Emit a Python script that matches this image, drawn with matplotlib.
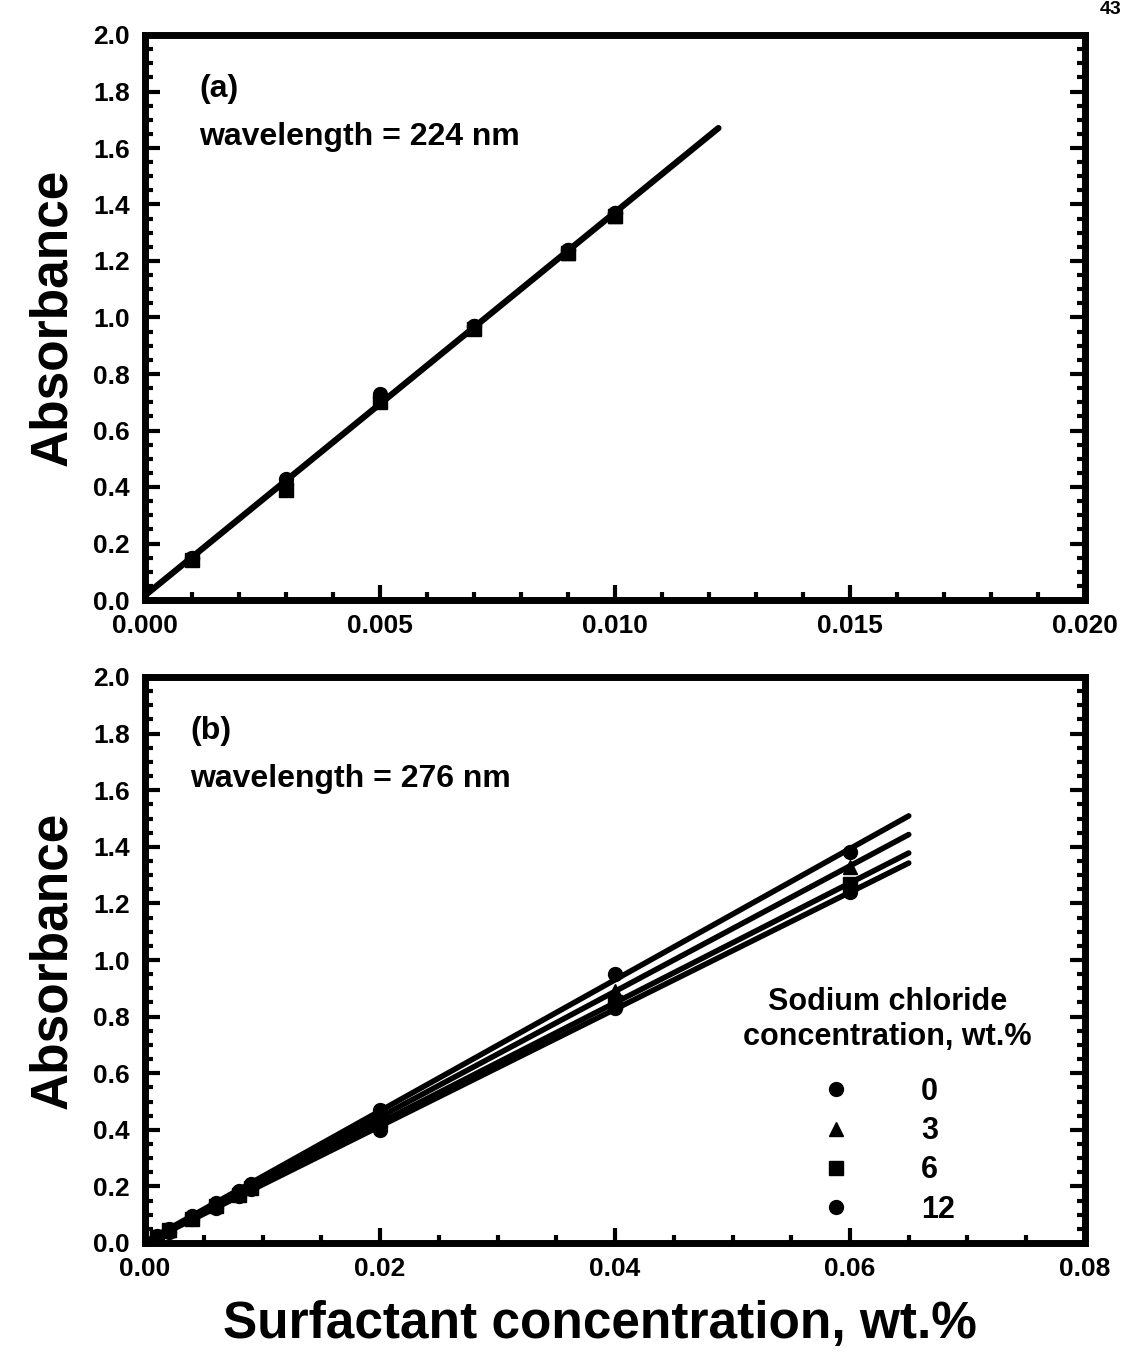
import matplotlib
matplotlib.use("Agg")
import matplotlib.pyplot as plt
from matplotlib.ticker import MultipleLocator, FormatStrFormatter
import numpy as np

plt.rcParams['font.family'] = ['Liberation Sans', 'DejaVu Sans']
plt.rcParams['font.weight'] = 'bold'

# salt levels (wt.% NaCl) and their markers
nacl_levels = ["0", "3", "6", "12"]
nacl_markers = ["o", "^", "s", "o"]

# panel (a): 224 nm
conc_a = [0.001, 0.003, 0.005, 0.007, 0.009, 0.010]
abs_a = [
    [0.15, 0.43, 0.72, 0.97, 1.24, 1.37],
    [0.15, 0.42, 0.71, 0.97, 1.23, 1.36],
    [0.14, 0.39, 0.70, 0.96, 1.23, 1.36],
    [0.15, 0.41, 0.73, 0.97, 1.24, 1.37],
]
fit_end_a = 0.0122

# panel (b): 276 nm
conc_b = [0.001, 0.002, 0.004, 0.006, 0.008, 0.009, 0.02, 0.04, 0.06]
abs_b = [
    [0.025, 0.05, 0.095, 0.14, 0.185, 0.21, 0.47, 0.95, 1.38],
    [0.02, 0.045, 0.09, 0.135, 0.18, 0.205, 0.45, 0.89, 1.33],
    [0.02, 0.045, 0.085, 0.13, 0.17, 0.195, 0.43, 0.85, 1.27],
    [0.02, 0.04, 0.085, 0.125, 0.165, 0.19, 0.40, 0.83, 1.24],
]
fit_end_b = 0.065

W, H = 1127, 1363
fig = plt.figure(figsize=(W / 100, H / 100), dpi=100)
ax1 = fig.add_axes([145 / W, 1 - 600 / H, 940 / W, 565 / H])
ax2 = fig.add_axes([145 / W, 1 - 1243 / H, 940 / W, 566 / H])


def style_axes(ax, xmax, xmajor, xminor, xfmt):
    ax.set_xlim(0, xmax)
    ax.set_ylim(0, 2.0)
    ax.xaxis.set_major_locator(MultipleLocator(xmajor))
    ax.xaxis.set_minor_locator(MultipleLocator(xminor))
    ax.yaxis.set_major_locator(MultipleLocator(0.2))
    ax.yaxis.set_minor_locator(MultipleLocator(0.05))
    ax.xaxis.set_major_formatter(FormatStrFormatter(xfmt))
    ax.yaxis.set_major_formatter(FormatStrFormatter('%.1f'))
    for s in ax.spines.values():
        s.set_linewidth(5)
    ax.tick_params(which='both', direction='in', width=3, top=False, right=True,
                   labelsize=19)
    ax.tick_params(which='major', length=11)
    ax.tick_params(which='minor', length=6)
    ax.tick_params(axis='y', pad=11)
    ax.tick_params(axis='x', pad=10)
    for lab in ax.get_xticklabels() + ax.get_yticklabels():
        lab.set_fontweight('bold')
    ax.set_ylabel('Absorbance', fontsize=37, fontweight='bold')
    ax.yaxis.set_label_coords(-0.072, 0.5)


# (a)
for vals, m in zip(abs_a, nacl_markers):
    ax1.plot(conc_a, vals, ls='none', marker=m, ms=10, color='black')
k, b = np.polyfit(np.tile(conc_a, len(abs_a)), np.ravel(abs_a), 1)
xf = np.array([0.0, fit_end_a])
ax1.plot(xf, k * xf + b, color='black', lw=4.5, solid_capstyle='round')
style_axes(ax1, 0.020, 0.005, 0.001, '%.3f')
ax1.text(0.058, 0.905, '(a)', transform=ax1.transAxes, fontsize=23,
         fontweight='bold', va='center')
ax1.text(0.058, 0.82, 'wavelength = 224 nm', transform=ax1.transAxes,
         fontsize=23, fontweight='bold', va='center')

# (b)
for vals, m, lab in zip(abs_b, nacl_markers, nacl_levels):
    ax2.plot(conc_b, vals, ls='none', marker=m, ms=10, color='black', label=lab)
    k, b = np.polyfit(conc_b, vals, 1)
    xf = np.array([0.0, fit_end_b])
    ax2.plot(xf, k * xf + b, color='black', lw=4, solid_capstyle='round')
style_axes(ax2, 0.080, 0.02, 0.005, '%.2f')
ax2.text(0.048, 0.905, '(b)', transform=ax2.transAxes, fontsize=23,
         fontweight='bold', va='center')
ax2.text(0.048, 0.82, 'wavelength = 276 nm', transform=ax2.transAxes,
         fontsize=23, fontweight='bold', va='center')

leg = ax2.legend(title='Sodium chloride\nconcentration, wt.%', frameon=False,
                 loc='upper center', bbox_to_anchor=(0.79, 0.5),
                 prop={'size': 22, 'weight': 'bold'},
                 title_fontproperties={'size': 22, 'weight': 'bold'},
                 handlelength=1, handletextpad=2.3, labelspacing=0.3,
                 alignment='center')
leg.get_title().set_multialignment('center')
leg._legend_box.sep = 18

fig.text(600 / W, 1 - 1325 / H, 'Surfactant concentration, wt.%', fontsize=37,
         fontweight='bold', ha='center', va='center')
fig.text(1122 / W, 1 - 10 / H, '43', fontsize=14, fontweight='bold',
         ha='right', va='center')

fig.savefig('out.png', dpi=100)
